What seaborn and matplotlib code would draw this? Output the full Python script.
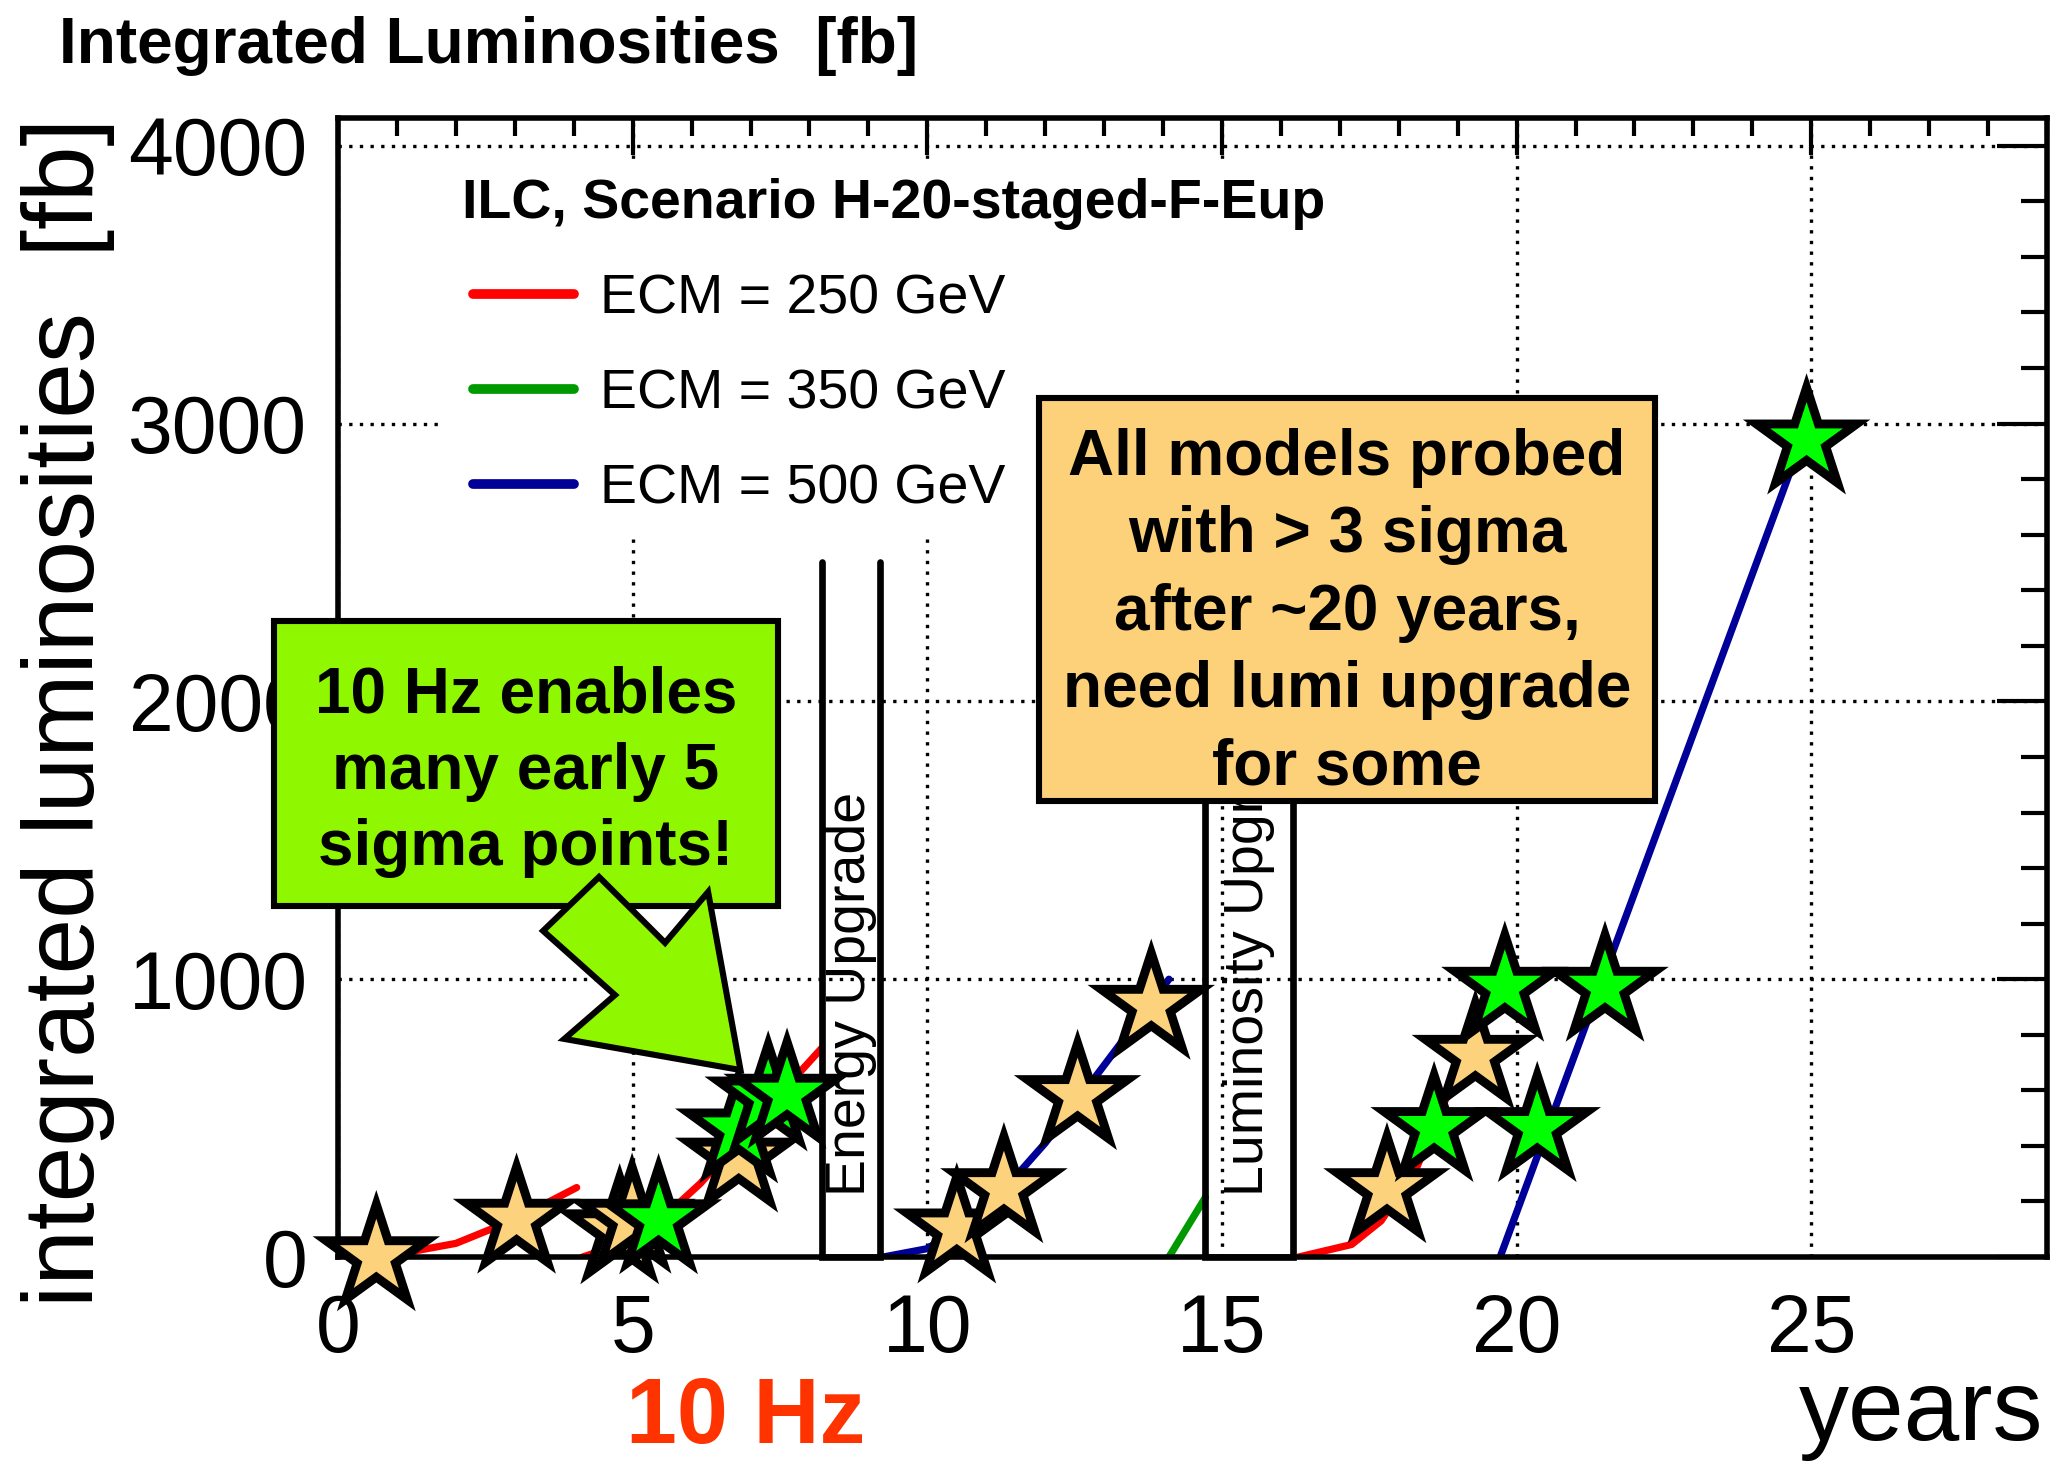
import matplotlib
matplotlib.use("Agg")
import numpy as np
import pandas as pd
import matplotlib.pyplot as plt
import seaborn as sns
from matplotlib.ticker import MultipleLocator
from matplotlib.patches import Rectangle, Polygon
from matplotlib.lines import Line2D
from matplotlib.legend_handler import HandlerLine2D

# ---------------- data ----------------
red1_x = [0.0, 1.0, 2.0, 3.0, 4.05]
red1_y = [0, 10, 49, 135, 250]
red2_x = [4.15, 5.15, 6.15, 7.15, 8.2]
red2_y = [0, 70, 265, 505, 750]
red3_x = [16.3, 17.2, 17.7, 18.3, 19.3]
red3_y = [0, 45, 130, 320, 820]
green1_x = [14.1, 14.72]
green1_y = [0, 215]
blue1_x = [9.25, 10.0, 11.0, 12.0, 13.0, 14.1]
blue1_y = [0, 30, 170, 410, 690, 1000]
blue2_x = [19.72, 24.9]
blue2_y = [0, 2975]

ecm_labels = ["ECM = 250 GeV", "ECM = 350 GeV", "ECM = 500 GeV"]
ecm_colors = ["#FF0000", "#009900", "#000099"]

# stars: 3 sigma (orange) and 5 sigma (green) points
star_x = [0.65, 3.03, 4.78, 4.99, 6.8, 10.5, 11.3, 12.55, 13.8, 17.8, 19.3,
          5.44, 6.8, 7.3, 7.62, 18.6, 19.8, 20.35, 21.5, 24.92]
star_y = [0, 135, 97, 135, 355, 100, 245, 580, 905, 245, 725,
          133, 460, 575, 585, 465, 970, 465, 970, 2940]
star_sig = ["3"] * 11 + ["5"] * 9

x_ticks = [0, 5, 10, 15, 20, 25]
y_ticks = [0, 1000, 2000, 3000, 4000]

energy_upgrade = (8.22, 9.2)
lumi_upgrade = (14.72, 16.2)
upgrade_top = 2500

green_box = (-1.09, 1264, 7.47, 2290)
orange_box = (11.89, 1642, 22.35, 3093)
arrow_xy = [(3.48, 1174), (4.43, 1368), (5.55, 1131), (6.28, 1314),
            (6.83, 673), (3.84, 785), (4.70, 943)]
green_lines = ["10 Hz enables", "many early 5", "sigma points!"]
green_base = [1959, 1685, 1412]
orange_lines = ["All models probed", "with > 3 sigma", "after ~20 years,",
                "need lumi upgrade", "for some"]
orange_base = [2816, 2539, 2258, 1981, 1700]

# ---------------- style ----------------
sns.set_style("white")
plt.rcParams['font.family'] = ['Liberation Sans', 'DejaVu Sans']
plt.rcParams['axes.linewidth'] = 2.0
for k in ["text.color", "axes.labelcolor", "xtick.color", "ytick.color", "axes.edgecolor"]:
    plt.rcParams[k] = "black"

W, H, DPI = 2058, 1463, 200
fig = plt.figure(figsize=(W / DPI, H / DPI), dpi=DPI)
ax = fig.add_axes([338 / W, 1 - 1257 / H, 1709 / W, 1139 / H])


def fx(p):
    return p / W


def fy(p):
    return 1 - p / H


# lines
segs = [("r1", 0, red1_x, red1_y), ("r2", 0, red2_x, red2_y), ("r3", 0, red3_x, red3_y),
        ("g1", 1, green1_x, green1_y), ("b1", 2, blue1_x, blue1_y), ("b2", 2, blue2_x, blue2_y)]
rows = []
for name, e, xs, ys in segs:
    for xv, yv in zip(xs, ys):
        rows.append({"year": xv, "lumi": yv, "seg": name, "ecm": ecm_labels[e]})
lines_df = pd.DataFrame(rows)
sns.lineplot(data=lines_df, x="year", y="lumi", hue="ecm", units="seg",
             estimator=None, sort=False, palette=dict(zip(ecm_labels, ecm_colors)),
             linewidth=2.6, legend=False, ax=ax, zorder=2)

# upgrade boxes
for (a, b), label in [(energy_upgrade, "Energy Upgrade"), (lumi_upgrade, "Luminosity Upgrade")]:
    ax.plot([a, a, b, b], [upgrade_top, 0, 0, upgrade_top], color="black", lw=2.4,
            zorder=3, solid_joinstyle="miter", clip_on=False)
    ax.text((a + b) / 2, 220, label, rotation=90, ha="center", va="bottom",
            fontsize=20, zorder=3.5)

# stars
stars_df = pd.DataFrame({"year": star_x, "lumi": star_y, "sig": star_sig})
sns.scatterplot(data=stars_df, x="year", y="lumi", hue="sig",
                palette={"3": "#FDD27D", "5": "#00FF00"}, marker="*", s=1437,
                edgecolor="black", linewidth=3.2, legend=False, ax=ax,
                zorder=4, clip_on=False)
ax.collections[-1].set_joinstyle("miter")

# axes
ax.set_xlim(0, 29)
ax.set_ylim(0, 4100)
ax.set_xticks(x_ticks)
ax.set_yticks(y_ticks)
ax.xaxis.set_minor_locator(MultipleLocator(1))
ax.yaxis.set_minor_locator(MultipleLocator(200))
ax.tick_params(which="both", direction="in", top=True, right=True, width=1.5,
               color="black", labelcolor="black", labelsize=29)
ax.tick_params(axis="x", which="major", length=13.3, pad=13)
ax.tick_params(axis="x", which="minor", length=6.5)
ax.tick_params(axis="y", which="major", length=18, pad=11)
ax.tick_params(axis="y", which="minor", length=9.4)
ax.set_xlabel("")
ax.set_ylabel("")
for s in ax.spines.values():
    s.set_color("black")
    s.set_linewidth(2.0)
ax.grid(which="major", color="black", linestyle=(0, (1, 2.2)), linewidth=1.2)

# legend
handles = [Line2D([], [], color=c, lw=3.5) for c in ecm_colors]
leg = ax.legend(handles, ecm_labels, title="ILC, Scenario H-20-staged-F-Eup",
                loc="upper left", bbox_to_anchor=(0.0614, 0.964), borderaxespad=0,
                fontsize=20, title_fontproperties={"weight": "bold", "size": 20},
                alignment="left", frameon=True, fancybox=False, framealpha=1,
                edgecolor="none", facecolor="white", handlelength=2.02,
                handletextpad=0.47, labelspacing=0.78, borderpad=0.34,
                handler_map={Line2D: HandlerLine2D(xpad=0.2)})
leg.set_zorder(5)

# annotation boxes
gx0, gy0, gx1, gy1 = green_box
ax.add_patch(Rectangle((gx0, gy0), gx1 - gx0, gy1 - gy0, facecolor="#8FF800",
                       edgecolor="black", lw=2.2, zorder=6, clip_on=False))
for t, yb in zip(green_lines, green_base):
    ax.text((gx0 + gx1) / 2, yb, t, ha="center", va="baseline", fontsize=23,
            fontweight="bold", zorder=7, clip_on=False)
ax.add_patch(Polygon(arrow_xy, closed=True, facecolor="#8FF800", edgecolor="black",
                     lw=2.2, zorder=6, joinstyle="miter"))

ox0, oy0, ox1, oy1 = orange_box
ax.add_patch(Rectangle((ox0, oy0), ox1 - ox0, oy1 - oy0, facecolor="#FDD17A",
                       edgecolor="black", lw=2.2, zorder=6))
for t, yb in zip(orange_lines, orange_base):
    ax.text((ox0 + ox1) / 2, yb, t, ha="center", va="baseline", fontsize=23,
            fontweight="bold", zorder=7)

# figure texts
fig.text(fx(59), fy(63), "Integrated Luminosities  [fb]", fontsize=23,
         fontweight="bold", ha="left", va="baseline")
fig.text(fx(68), fy(118), "integrated luminosities  [fb]", fontsize=36,
         rotation=90, ha="center", va="top")
fig.text(fx(2043), fy(1440), "years", fontsize=36, ha="right", va="baseline")
fig.text(fx(746), fy(1443), "10 Hz", fontsize=33, fontweight="bold",
         color="#FF3300", ha="center", va="baseline")

fig.savefig("out.png", dpi=DPI)
